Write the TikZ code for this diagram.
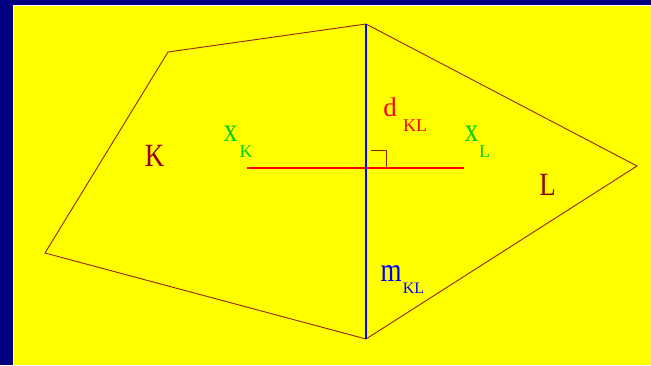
\documentclass[tikz,border=0pt]{standalone}
\usepackage{fontspec}
\setmainfont{Liberation Serif}
\definecolor{navy}{RGB}{0,0,128}
\definecolor{bgyellow}{RGB}{255,255,0}
\definecolor{edgebrown}{RGB}{153,34,0}
\definecolor{labred}{RGB}{153,0,0}
\definecolor{mygreen}{RGB}{0,204,0}
\begin{document}
\begin{tikzpicture}[x=1pt,y=-1pt,
  edge/.style={draw=edgebrown,line width=0.9pt,line join=miter},
  lbl/.style={inner sep=0pt,outer sep=0pt,font=\fontsize{27}{27}\selectfont},
  sub/.style={inner sep=0pt,outer sep=0pt,font=\fontsize{18}{18}\selectfont}]
\useasboundingbox (0,0) rectangle (651,365);
\fill[navy] (0,0) rectangle (651,365);
\fill[white] (13,5) rectangle (651,365);
\fill[bgyellow] (14,6) rectangle (651,365);
% vertices
\coordinate (A) at (168,52);
\coordinate (T) at (366,24);
\coordinate (B) at (366,339);
\coordinate (W) at (45,253);
\coordinate (E) at (637,166);
\coordinate (XK) at (247,168);
\coordinate (XL) at (464,168);
\coordinate (R1) at (371,150);
\coordinate (R2) at (386,150);
\coordinate (R3) at (386,168);
% cells
\draw[edge] (T) -- (A) -- (W) -- (B);
\draw[edge] (T) -- (E) -- (B);
\draw[red,line width=1.2pt] (XK) -- (XL);
\draw[edgebrown,line width=1pt] (R1) -- (R2) -- (R3);
\draw[blue,line width=1.8pt] (T) -- (B);
% labels
\node[lbl,text=labred,yscale=1.2] (lK) at (154.5,155.5) {K};
\node[lbl,text=labred,yscale=1.2] (lL) at (547.5,184.5) {L};
\node[lbl,text=red] (d) at (390,107.5) {d};
\node[sub,text=red] (dsub) at (415,125.5) {KL};
\node[lbl,text=mygreen,yscale=1.25] (xk) at (230.5,133.5) {x};
\node[sub,text=mygreen] (xksub) at (246,152) {K};
\node[lbl,text=mygreen,yscale=1.25] (xl) at (471.5,133.5) {x};
\node[sub,text=mygreen] (xlsub) at (484.5,152) {L};
\node[lbl,text=blue,yscale=1.25] (m) at (391,274) {m};
\node[sub,text=blue,font=\fontsize{16}{16}\selectfont] (msub) at (413.5,288.5) {KL};
\end{tikzpicture}
\end{document}
